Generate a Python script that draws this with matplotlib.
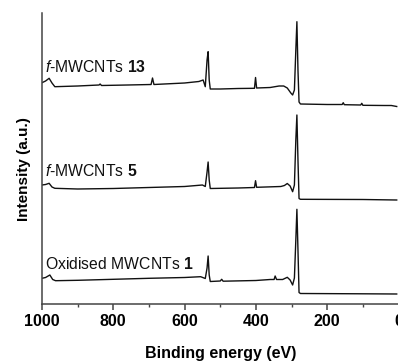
import matplotlib
matplotlib.use("Agg")
import matplotlib.pyplot as plt

plt.rcParams['font.family'] = ['Liberation Sans', 'DejaVu Sans']
plt.rcParams['mathtext.fontset'] = 'custom'
plt.rcParams['mathtext.rm'] = 'Liberation Sans'
plt.rcParams['mathtext.it'] = 'Liberation Sans:italic'
plt.rcParams['mathtext.bf'] = 'Liberation Sans:bold'

# Survey spectra (binding energy in eV, offset intensity in a.u.)
e_13 = [1000, 990, 980, 972, 964, 900, 840, 837, 833, 760, 694, 690, 686, 600, 560, 548,
        542, 537, 534, 531, 528, 500, 450, 404, 401, 398, 360, 335, 322, 312, 302, 297,
        292, 288, 285, 282, 279, 275, 200, 158, 155, 152, 106, 103, 100, 40, 20, 5]
i_13 = [221.3, 223, 225.7, 221, 217.3, 218, 219, 220, 218.5, 219, 219.5, 226, 219.5, 221,
        222.5, 224, 217.3, 244, 252.3, 224, 215, 215, 215.5, 215.7, 226.5, 216, 216.5, 218,
        218, 216, 211, 209, 214, 254, 282.3, 234, 202, 200, 199.5, 199.5, 201.3, 199.3, 199,
        200.7, 198.7, 198.5, 198.5, 197.5]

e_5 = [1000, 990, 980, 972, 964, 900, 800, 700, 600, 550, 542, 537, 534, 531, 528, 450,
       404, 401, 398, 330, 320, 312, 304, 297, 292, 288, 285, 282, 279, 275, 100, 5]
i_5 = [119, 119.5, 120.7, 117, 115.7, 115, 115.5, 116.5, 117.5, 119, 117.5, 132, 142, 124,
       115.5, 116, 116.5, 123.3, 116.7, 117.5, 118.5, 120.5, 118, 112.3, 119, 164, 189, 144,
       105.5, 104.7, 104.5, 104]

e_1 = [1000, 990, 978, 970, 962, 900, 800, 700, 600, 555, 542, 537, 534, 531, 528, 500,
       496, 492, 400, 360, 349, 346, 342, 325, 312, 304, 297, 292, 288, 285, 282, 279, 275,
       100, 5]
i_1 = [25.7, 26.5, 29, 24.5, 23.3, 23.7, 24.7, 25.7, 26.5, 27.3, 25.5, 36, 48, 29, 22.5,
       23, 24.7, 22.8, 23.5, 24.5, 24.5, 28, 24.5, 24.5, 26.7, 24, 19, 26, 64, 94.7, 54,
       11.5, 10.5, 10.2, 10]

labels = [r'$\mathit{f}$-MWCNTs $\mathbf{13}$',
          r'$\mathit{f}$-MWCNTs $\mathbf{5}$',
          r'Oxidised MWCNTs $\mathbf{1}$']
label_y = [237.5, 133, 40]

fig = plt.figure(figsize=(3.98, 3.61), dpi=100)
ax = fig.add_axes([42 / 398, 57 / 361, 356.5 / 398, 291 / 361])

for e, i in [(e_13, i_13), (e_5, i_5), (e_1, i_1)]:
    ax.plot(e, i, color='#111111', lw=1.0)

for lab, y in zip(labels, label_y):
    ax.text(991.5, y, lab, fontsize=11.3, va='center', ha='left', color='#111111')

ax.set_xlim(1000, 0)
ax.set_ylim(0, 291)
ax.set_xticks([1000, 800, 600, 400, 200, 0])
ax.set_xticks([900, 700, 500, 300, 100], minor=True)
ax.set_yticks([])
for s in ['top', 'right']:
    ax.spines[s].set_visible(False)
for s in ['left', 'bottom']:
    ax.spines[s].set_color('#444444')
    ax.spines[s].set_linewidth(1.1)
ax.tick_params(axis='x', which='major', direction='out', length=4, width=1.1,
               color='#444444', labelsize=11.5, pad=3)
ax.tick_params(axis='x', which='minor', direction='out', length=2.5, width=1.0,
               color='#444444')
for t in ax.get_xticklabels():
    t.set_fontweight('bold')

ax.set_xlabel('Binding energy (eV)', fontsize=11.5, fontweight='bold')
ax.set_ylabel('Intensity (a.u.)', fontsize=11, fontweight='bold')
ax.xaxis.set_label_coords(0.5, -0.145)
ax.yaxis.set_label_coords(-0.032, 0.464)

fig.savefig('out.png', dpi=100)
